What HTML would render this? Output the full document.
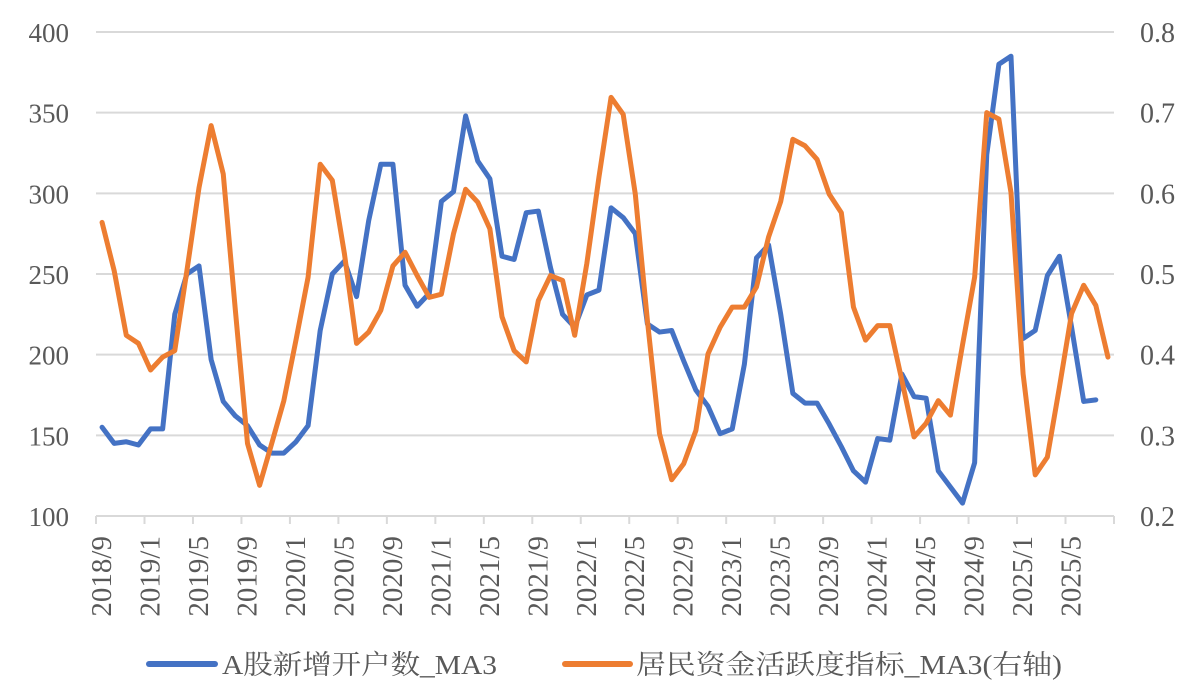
<!DOCTYPE html>
<html><head><meta charset="utf-8"><style>
body{margin:0;background:#fff;}
svg{display:block;font-family:"Liberation Serif","Noto Serif CJK SC",serif;}
</style></head><body>
<svg id="chart" width="1197" height="696" viewBox="0 0 1197 696" xmlns="http://www.w3.org/2000/svg">
<g id="grid"></g>
<g id="axes"></g>
<g id="series"></g>
<g>
  <line x1="149" y1="664" x2="215" y2="664" stroke="#4472C4" stroke-width="6" stroke-linecap="round"/>
  <text x="222" y="674" font-size="27" fill="#595959" textLength="275" lengthAdjust="spacingAndGlyphs">A股新增开户数_MA3</text>
  <line x1="565" y1="664" x2="630" y2="664" stroke="#ED7D31" stroke-width="6" stroke-linecap="round"/>
  <text x="636" y="674" font-size="27" fill="#595959" textLength="426" lengthAdjust="spacingAndGlyphs">居民资金活跃度指标_MA3(右轴)</text>
</g>
</svg>
<script>
const leftTicks=[100,150,200,250,300,350,400];
const rightTicks=["0.2","0.3","0.4","0.5","0.6","0.7","0.8"];
const startYear=2018, startMonth=9, nCats=84;
const accounts=[155,145,146,144,154,154,225,250,255,197,171,162,156,144,139,139,146,156,215,250,258,236,283,318,318,243,230,238,295,301,348,320,309,261,259,288,289,254,225,217,237,240,291,285,275,219,214,215,196,178,168,151,154,194,260,268,225,176,170,170,157,143,128,121,148,147,188,174,173,128,118,108,133,324,380,385,210,215,249,261,217,171,172];
const activity=[0.564,0.504,0.424,0.414,0.381,0.397,0.405,0.504,0.607,0.684,0.624,0.455,0.290,0.238,0.290,0.343,0.418,0.496,0.636,0.616,0.525,0.414,0.428,0.455,0.510,0.527,0.498,0.471,0.475,0.55,0.605,0.589,0.556,0.447,0.405,0.391,0.467,0.498,0.492,0.424,0.513,0.62,0.719,0.698,0.599,0.442,0.302,0.245,0.265,0.306,0.401,0.434,0.459,0.459,0.484,0.546,0.59,0.667,0.659,0.642,0.599,0.576,0.459,0.418,0.436,0.436,0.368,0.298,0.315,0.343,0.325,0.412,0.496,0.700,0.692,0.601,0.376,0.251,0.273,0.360,0.451,0.486,0.461,0.397];

const NS="http://www.w3.org/2000/svg";
const X0=96,X1=1114,Y0=32,Y1=516;
const step=(X1-X0)/nCats;
const xCat=i=>X0+step*(i+0.5);
const yL=v=>Y1-(v-100)/300*(Y1-Y0);
const yR=v=>Y1-(v-0.2)/0.6*(Y1-Y0);
function mk(tag,attrs,parent,txt){const e=document.createElementNS(NS,tag);for(const k in attrs)e.setAttribute(k,attrs[k]);if(txt!==undefined)e.textContent=txt;parent.appendChild(e);return e;}
const grid=document.getElementById('grid'),axes=document.getElementById('axes'),series=document.getElementById('series');
leftTicks.forEach((v,k)=>{
  const y=yL(v);
  if(k>0){const g=mk('line',{x1:X0,x2:X1,y1:y,y2:y,stroke:'#d9d9d9','stroke-width':2},grid);
  
  }
  const t=mk('text',{x:69,y:y+10,'text-anchor':'end','font-size':27,fill:'#595959'},axes,String(v));
  
  
});
rightTicks.forEach(v=>{
  const y=yR(parseFloat(v));
  const t=mk('text',{x:1140,y:y+10,'font-size':28,fill:'#595959'},axes,v);
  
  
});
const base=mk('line',{x1:X0,x2:X1,y1:Y1,y2:Y1,stroke:'#d9d9d9','stroke-width':2},axes);


for(let i=0;i<=nCats;i+=4){
  const x=X0+step*i;
  const tk=mk('line',{x1:x,x2:x,y1:Y1,y2:Y1+8,stroke:'#d9d9d9','stroke-width':2},axes);
  
  
  if(i<nCats){
    const m=startMonth-1+i;const yr=startYear+Math.floor(m/12);const mo=m%12+1;
    const t=mk('text',{x:0,y:0,'text-anchor':'end','font-size':29,fill:'#595959',transform:`translate(${x+15},536) rotate(-90)`},axes,yr+'/'+mo);
    
    
  }
}
const pA=mk('polyline',{points:accounts.map((v,i)=>xCat(i)+','+yL(v)).join(' '),fill:'none',stroke:'#4472C4','stroke-width':5,'stroke-linejoin':'round','stroke-linecap':'round'},series);


const pB=mk('polyline',{points:activity.map((v,i)=>xCat(i)+','+yR(v)).join(' '),fill:'none',stroke:'#ED7D31','stroke-width':5,'stroke-linejoin':'round','stroke-linecap':'round'},series);


</script>
</body></html>
